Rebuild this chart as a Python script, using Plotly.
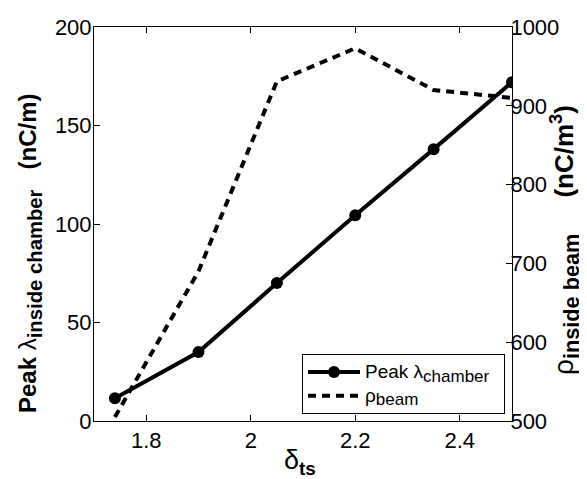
import plotly.graph_objects as go

delta_ts = [1.74, 1.9, 2.05, 2.2, 2.35, 2.5]
peak_lambda_chamber = [11.5, 35, 70, 104.5, 138, 172]
rho_beam = [505, 690, 931, 973, 920, 910]

x_ticks = [1.8, 2.0, 2.2, 2.4]
x_ticklabels = ["1.8", "2", "2.2", "2.4"]
y1_ticks = [0, 50, 100, 150, 200]
y2_ticks = [500, 600, 700, 800, 900, 1000]

FONT = "Liberation Sans, Arial, Helvetica, sans-serif"


def sized(txt, px):
    return f"<span style='font-size:{px}px'>{txt}</span>"


fig = go.Figure()
fig.add_trace(go.Scatter(
    x=delta_ts, y=peak_lambda_chamber, mode="lines+markers",
    name=sized("Peak λ", 19) + "<sub>" + sized("chamber", 17) + "</sub>\u00a0\u00a0",
    line=dict(color="black", width=4),
    marker=dict(color="black", size=12, symbol="circle"),
))
fig.add_trace(go.Scatter(
    x=delta_ts, y=rho_beam, mode="lines", yaxis="y2",
    name=sized("ρ", 19) + "<sub>" + sized("beam", 17) + "</sub>",
    line=dict(color="black", width=4, dash="8px,6px"),
))

PW = 418.0  # plot width px
PH = 394.0  # plot height px

fig.update_layout(
    width=587, height=479,
    margin=dict(l=86, r=83, t=19, b=66),
    paper_bgcolor="white", plot_bgcolor="white",
    font=dict(family=FONT, color="black", size=22),
    showlegend=True,
    legend=dict(
        x=(497 - 86) / PW, y=(413 - 406) / PH, xanchor="right", yanchor="bottom",
        bordercolor="black", borderwidth=1, bgcolor="white",
        font=dict(size=16, family=FONT), itemwidth=52,
        tracegroupgap=0,
    ),
    xaxis=dict(
        range=[1.7, 2.5], tickvals=x_ticks, ticktext=x_ticklabels,
        showline=True, linecolor="black", linewidth=1, mirror="ticks",
        ticks="inside", ticklen=6, tickcolor="black",
        showgrid=False, zeroline=False, automargin=False,
        tickfont=dict(size=22),
    ),
    yaxis=dict(
        range=[0, 200], tickvals=y1_ticks,
        showline=True, linecolor="black", linewidth=1, mirror=True,
        ticks="inside", ticklen=6, tickcolor="black",
        showgrid=False, zeroline=False, automargin=False,
        tickfont=dict(size=22), ticklabelstandoff=-3,
    ),
    yaxis2=dict(
        range=[500, 1000], tickvals=y2_ticks, overlaying="y", side="right",
        showline=True, linecolor="black", linewidth=1,
        ticks="inside", ticklen=6, tickcolor="black",
        showgrid=False, zeroline=False, automargin=False,
        tickfont=dict(size=22), ticklabelstandoff=-7,
    ),
    annotations=[
        dict(text="δ<sub><b>ts</b></sub>",
             xref="paper", yref="paper", x=(292 - 86) / PW, y=(413 - 454) / PH,
             xanchor="center", yanchor="middle", showarrow=False,
             font=dict(size=27, family=FONT)),
        dict(text=sized("<b>Peak </b>λ", 24) + "<sub><b>inside chamber</b></sub>"
             + sized("<b>   (nC/m)</b>", 24),
             xref="paper", yref="paper", x=(22 - 86) / PW, y=(413 - 245) / PH,
             xanchor="center", yanchor="middle", showarrow=False, textangle=-90,
             font=dict(size=29, family=FONT)),
        dict(text=sized("ρ", 28) + "<sub><b>inside beam</b></sub>"
             + sized("<b>     (nC/m<sup>3</sup>)</b>", 26),
             xref="paper", yref="paper", x=(557 - 86) / PW, y=(413 - 232) / PH,
             xanchor="center", yanchor="middle", showarrow=False, textangle=-90,
             font=dict(size=31, family=FONT)),
    ],
)

fig.write_html("out.html")
